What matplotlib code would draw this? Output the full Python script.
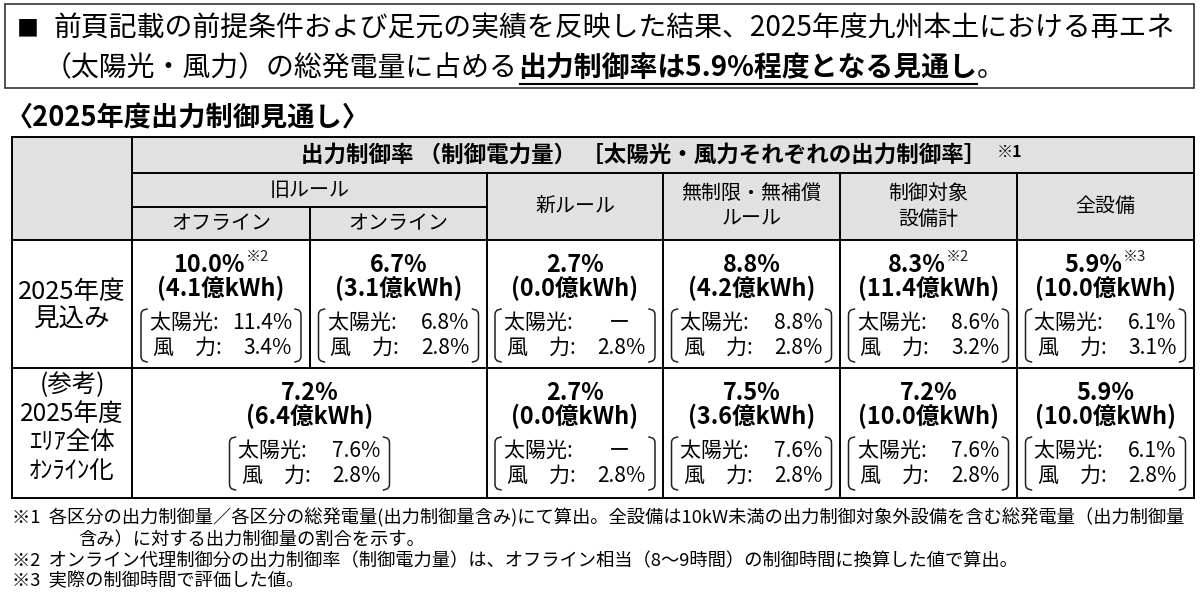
import matplotlib
matplotlib.use("Agg")
import matplotlib.pyplot as plt
from matplotlib.patches import Rectangle
from matplotlib.lines import Line2D

plt.rcParams['font.family'] = ['Noto Sans CJK JP', 'DejaVu Sans']

# ---------------- data ----------------
title_line1 = "前頁記載の前提条件および足元の実績を反映した結果、2025年度九州本土における再エネ"
title_line2_a = "（太陽光・風力）の総発電量に占める"
title_line2_b = "出力制御率は5.9%程度となる見通し"
title_line2_c = "。"
subtitle = "〈2025年度出力制御見通し〉"
header_top = "出力制御率 （制御電力量） ［太陽光・風力それぞれの出力制御率］"
header_group = "旧ルール"
col_labels = ["オフライン", "オンライン", "新ルール", "無制限・無補償\nルール", "制御対象\n設備計", "全設備"]
row_labels = ["2025年度\n見込み", "(参考)\n2025年度\nｴﾘｱ全体\nｵﾝﾗｲﾝ化"]

r1_rate = [10.0, 6.7, 2.7, 8.8, 8.3, 5.9]
r1_note = ["※2", "", "", "", "※2", "※3"]
r1_kwh = [4.1, 3.1, 0.0, 4.2, 11.4, 10.0]
r1_solar = ["11.4%", "6.8%", "ー", "8.8%", "8.6%", "6.1%"]
r1_wind = ["3.4%", "2.8%", "2.8%", "2.8%", "3.2%", "3.1%"]

r2_rate = [7.2, 2.7, 7.5, 7.2, 5.9]
r2_kwh = [6.4, 0.0, 3.6, 10.0, 10.0]
r2_solar = ["7.6%", "ー", "7.6%", "7.6%", "6.1%"]
r2_wind = ["2.8%", "2.8%", "2.8%", "2.8%", "2.8%"]

footnotes = [
    "※1  各区分の出力制御量／各区分の総発電量(出力制御量含み)にて算出。全設備は10kW未満の出力制御対象外設備を含む総発電量（出力制御量",
    "含み）に対する出力制御量の割合を示す。",
    "※2  オンライン代理制御分の出力制御率（制御電力量）は、オフライン相当（8～9時間）の制御時間に換算した値で算出。",
    "※3  実際の制御時間で評価した値。",
]
footnote_x = [12, 78, 12, 12]

# ---------------- figure ----------------
W, H = 1200, 593
fig = plt.figure(figsize=(W / 100, H / 100), dpi=100)
ax = fig.add_axes([0, 0, 1, 1])
ax.set_xlim(0, W)
ax.set_ylim(H, 0)
ax.axis('off')

def pt(px):
    return px * 0.72

renderer = fig.canvas.get_renderer()

def text_width(t):
    bb = t.get_window_extent(renderer=renderer)
    return bb.width

LW = 1.4
GREY = '#e1e1e1'

# title box
FS_T = pt(27.9)
ax.add_patch(Rectangle((5, 4), 1189, 84, facecolor='white', edgecolor='#333333', lw=1.2))
ax.text(17, 29, "■", fontsize=pt(22), va='center', ha='left', color='black')
ax.text(54, 29, title_line1, fontsize=FS_T, va='center', ha='left')
x = 44
t = ax.text(x, 68, title_line2_a, fontsize=FS_T, va='center', ha='left')
x += text_width(t)
t2 = ax.text(x, 68, title_line2_b, fontsize=FS_T, va='center', ha='left', fontweight='bold')
w2 = text_width(t2)
ax.add_line(Line2D([x + 2, x + w2], [84, 84], color='black', lw=1.5))
x += w2
ax.text(x, 68, title_line2_c, fontsize=FS_T, va='center', ha='left')

# subtitle
ax.text(6, 118, subtitle, fontsize=pt(27.2), va='center', ha='left', fontweight='bold')

# table geometry
xs = [12, 132, 310, 487, 663, 840, 1017, 1194]
ys = [137, 173, 207, 240, 368, 498]

# header backgrounds
ax.add_patch(Rectangle((xs[0], ys[0]), xs[-1] - xs[0], ys[3] - ys[0], facecolor=GREY, edgecolor='none'))

def hline(x0, x1, y):
    ax.add_line(Line2D([x0, x1], [y, y], color='black', lw=LW, solid_capstyle='projecting'))

def vline(x, y0, y1):
    ax.add_line(Line2D([x, x], [y0, y1], color='black', lw=LW, solid_capstyle='projecting'))

# grid
for y in (ys[0], ys[-1]):
    hline(xs[0], xs[-1], y)
for x_ in (xs[0], xs[-1]):
    vline(x_, ys[0], ys[-1])
vline(xs[1], ys[0], ys[-1])
hline(xs[1], xs[-1], ys[1])
hline(xs[1], xs[3], ys[2])
hline(xs[0], xs[-1], ys[3])
hline(xs[0], xs[-1], ys[4])
vline(xs[2], ys[2], ys[4])
for x_ in xs[3:-1]:
    vline(x_, ys[1], ys[-1])

FS_H = pt(20)
# header texts
hcx = 644
ht = ax.text(hcx, (ys[0] + ys[1]) / 2, header_top, fontsize=pt(22.5), fontweight='bold',
             ha='center', va='center')
hw = text_width(ht)
ax.text(hcx + hw / 2 + 10, (ys[0] + ys[1]) / 2 - 3, "※1", fontsize=pt(16),
        fontweight='bold', ha='left', va='center')
ax.text((xs[1] + xs[3]) / 2, (ys[1] + ys[2]) / 2, header_group, fontsize=FS_H, ha='center', va='center')
for i, lab in enumerate(col_labels):
    cx = (xs[i + 1] + xs[i + 2]) / 2
    if i < 2:
        ax.text(cx, (ys[2] + ys[3]) / 2, lab, fontsize=FS_H, ha='center', va='center')
    else:
        ax.text(cx, (ys[1] + ys[3]) / 2, lab, fontsize=FS_H, ha='center', va='center', linespacing=1.3)

# row labels
ax.text((xs[0] + xs[1]) / 2, 306, row_labels[0], fontsize=pt(25.5), ha='center', va='center', linespacing=1.1)
ax.text((xs[0] + xs[1]) / 2, 428, row_labels[1], fontsize=pt(24.5), ha='center', va='center', linespacing=1.12)

FS_B = pt(23.5)
FS_S = pt(21)

def bracket(cx, top, bot, half):
    k = 6
    lx = cx - half
    rx = cx + half
    ax.add_line(Line2D([lx + k, lx + 2, lx + 0.3, lx, lx, lx + 0.3, lx + 2, lx + k],
                       [top, top + 1.2, top + 3.5, top + k, bot - k, bot - 3.5, bot - 1.2, bot],
                       color='#222222', lw=1.1))
    ax.add_line(Line2D([rx - k, rx - 2, rx - 0.3, rx, rx, rx - 0.3, rx - 2, rx - k],
                       [top, top + 1.2, top + 3.5, top + k, bot - k, bot - 3.5, bot - 1.2, bot],
                       color='#222222', lw=1.1))

def cell(cx, ytop, rate, note, kwh, solar, wind):
    rt = ax.text(0, 0, f"{rate:.1f}%", fontsize=FS_B, fontweight='bold', ha='left', va='center')
    rw = text_width(rt)
    nw = 0
    nt = None
    if note:
        nt = ax.text(0, 0, note, fontsize=pt(15), ha='left', va='center', color='#222222')
        nw = text_width(nt) + 1
    x0 = cx - (rw + nw) / 2
    rt.set_position((x0, ytop + 25))
    if nt is not None:
        nt.set_position((x0 + rw + 1, ytop + 17))
    ax.text(cx, ytop + 48, f"({kwh:.1f}億kWh)", fontsize=FS_B, fontweight='bold', ha='center', va='center')
    y_s = ytop + 83
    y_w = ytop + 108
    ax.text(cx - 71, y_s, "太陽光: ", fontsize=FS_S, ha='left', va='center')
    ax.text(cx - 68, y_w, "風　力: ", fontsize=FS_S, ha='left', va='center')
    if solar == "ー":
        ax.text(cx + 44, y_s, solar, fontsize=FS_S, ha='center', va='center')
    else:
        ax.text(cx + 71, y_s, solar, fontsize=FS_S, ha='right', va='center')
    ax.text(cx + 71, y_w, wind, fontsize=FS_S, ha='right', va='center')
    bracket(cx, ytop + 69, ytop + 122, 80)

# row 1
for i in range(6):
    cx = (xs[i + 1] + xs[i + 2]) / 2
    cell(cx, ys[3], r1_rate[i], r1_note[i], r1_kwh[i], r1_solar[i], r1_wind[i])

# row 2 (first cell spans the two old-rule columns)
spans = [(xs[1], xs[3]), (xs[3], xs[4]), (xs[4], xs[5]), (xs[5], xs[6]), (xs[6], xs[7])]
for i, (a, b) in enumerate(spans):
    cell((a + b) / 2, ys[4], r2_rate[i], "", r2_kwh[i], r2_solar[i], r2_wind[i])

# footnotes
fy = [518, 540, 561, 581]
for xx, y, s in zip(footnote_x, fy, footnotes):
    ax.text(xx, y, s, fontsize=pt(18.3), ha='left', va='center')

fig.savefig("out.png", dpi=100)
